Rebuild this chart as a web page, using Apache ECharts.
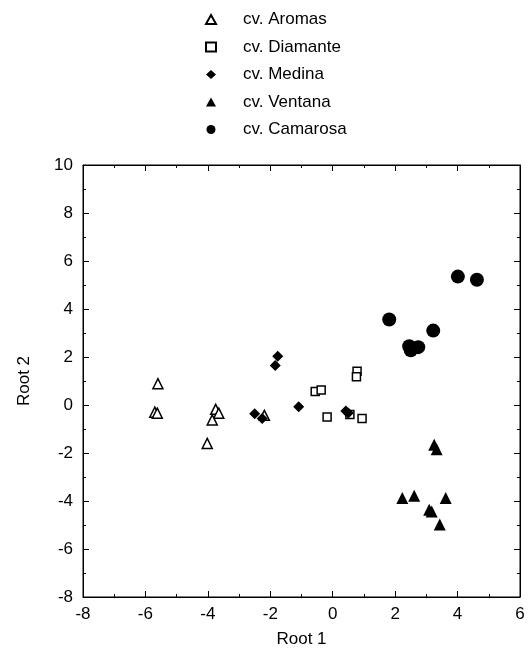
<!DOCTYPE html>
<html>
<head>
<meta charset="utf-8">
<script src="https://cdn.jsdelivr.net/npm/echarts@6/dist/echarts.min.js"></script>
<style>
  html, body { margin: 0; padding: 0; background: #fff; }
  #box1 { width: 531px; height: 663px; }
</style>
</head>
<body>
<div id="box1"></div>
<script>
// data: [Root 1, Root 2]
let aromas = [[-5.6, 0.89], [-5.7, -0.3], [-5.62, -0.34], [-3.75, -0.18], [-3.65, -0.34], [-3.86, -0.62], [-4.02, -1.6], [-2.19, -0.43]];
let diamante = [[-0.56, 0.56], [-0.37, 0.62], [-0.18, -0.5], [0.94, -0.56], [0.55, -0.4], [0.78, 1.41], [0.76, 1.18]];
let medina = [[-1.76, 2.03], [-1.84, 1.65], [-2.5, -0.36], [-2.26, -0.56], [-1.09, -0.07], [0.42, -0.25], [0.5, -0.33]];
let ventana = [[3.25, -1.66], [3.33, -1.84], [2.23, -3.87], [2.61, -3.78], [3.62, -3.87], [3.09, -4.36], [3.17, -4.44], [3.43, -4.98]];
let camarosa = [[4.01, 5.35], [4.62, 5.22], [1.81, 3.56], [3.22, 3.1], [2.45, 2.45], [2.5, 2.28], [2.74, 2.41]];
let names = ['cv. Aromas', 'cv. Diamante', 'cv. Medina', 'cv. Ventana', 'cv. Camarosa'];

let font = 'Liberation Sans, Arial, sans-serif';
let box1 = document.querySelector('#box1');
let myChart1 = echarts.init(box1);

let tickStyle = {
    axisLine: { show: true, onZero: false, lineStyle: { color: '#000', width: 1 } },
    axisTick: { show: true, inside: true, length: 6, lineStyle: { color: '#000' } },
    minorTick: { show: true, splitNumber: 2, length: 3, lineStyle: { color: '#000' } },
    splitLine: { show: false }
};

let option1 = {
    animation: false,
    grid: { left: 83, right: 11, top: 165, bottom: 66, show: true, borderColor: '#000', borderWidth: 1 },
    legend: {
        orient: 'vertical',
        left: 200,
        top: 6,
        itemGap: 10.5,
        itemWidth: 10,
        itemHeight: 9,
        textStyle: { fontFamily: font, fontSize: 17, color: '#000', padding: [0, 0, 0, 22] },
        data: names
    },
    xAxis: [
        Object.assign({
            type: 'value', min: -8, max: 6, interval: 2,
            name: 'Root 1', nameLocation: 'middle', nameGap: 34,
            nameTextStyle: { fontFamily: font, fontSize: 17, color: '#000' },
            axisLabel: { fontFamily: font, fontSize: 17, color: '#000', margin: 9 }
        }, tickStyle),
        Object.assign({
            type: 'value', min: -8, max: 6, interval: 2, position: 'top',
            axisLabel: { show: false }
        }, tickStyle)
    ],
    yAxis: [
        Object.assign({
            type: 'value', min: -8, max: 10, interval: 2,
            name: 'Root 2', nameLocation: 'middle', nameGap: 50,
            nameTextStyle: { fontFamily: font, fontSize: 17, color: '#000' },
            axisLabel: { fontFamily: font, fontSize: 17, color: '#000', margin: 10 }
        }, tickStyle),
        Object.assign({
            type: 'value', min: -8, max: 10, interval: 2, position: 'right',
            axisLabel: { show: false }
        }, tickStyle)
    ],
    series: [
        {
            name: names[0], type: 'scatter', data: aromas,
            symbol: 'triangle', symbolSize: 10,
            itemStyle: { color: '#fff', borderColor: '#000', borderWidth: 1.5, opacity: 1 }
        },
        {
            name: names[1], type: 'scatter', data: diamante,
            symbol: 'rect', symbolSize: 8,
            itemStyle: { color: '#fff', borderColor: '#000', borderWidth: 1.5, opacity: 1 }
        },
        {
            name: names[2], type: 'scatter', data: medina,
            symbol: 'diamond', symbolSize: 11,
            itemStyle: { color: '#000', opacity: 1 }
        },
        {
            name: names[3], type: 'scatter', data: ventana,
            symbol: 'triangle', symbolSize: 12,
            itemStyle: { color: '#000', opacity: 1 }
        },
        {
            name: names[4], type: 'scatter', data: camarosa,
            symbol: 'circle', symbolSize: 14,
            itemStyle: { color: '#000', opacity: 1 }
        }
    ]
};
myChart1.setOption(option1);
</script>
</body>
</html>
